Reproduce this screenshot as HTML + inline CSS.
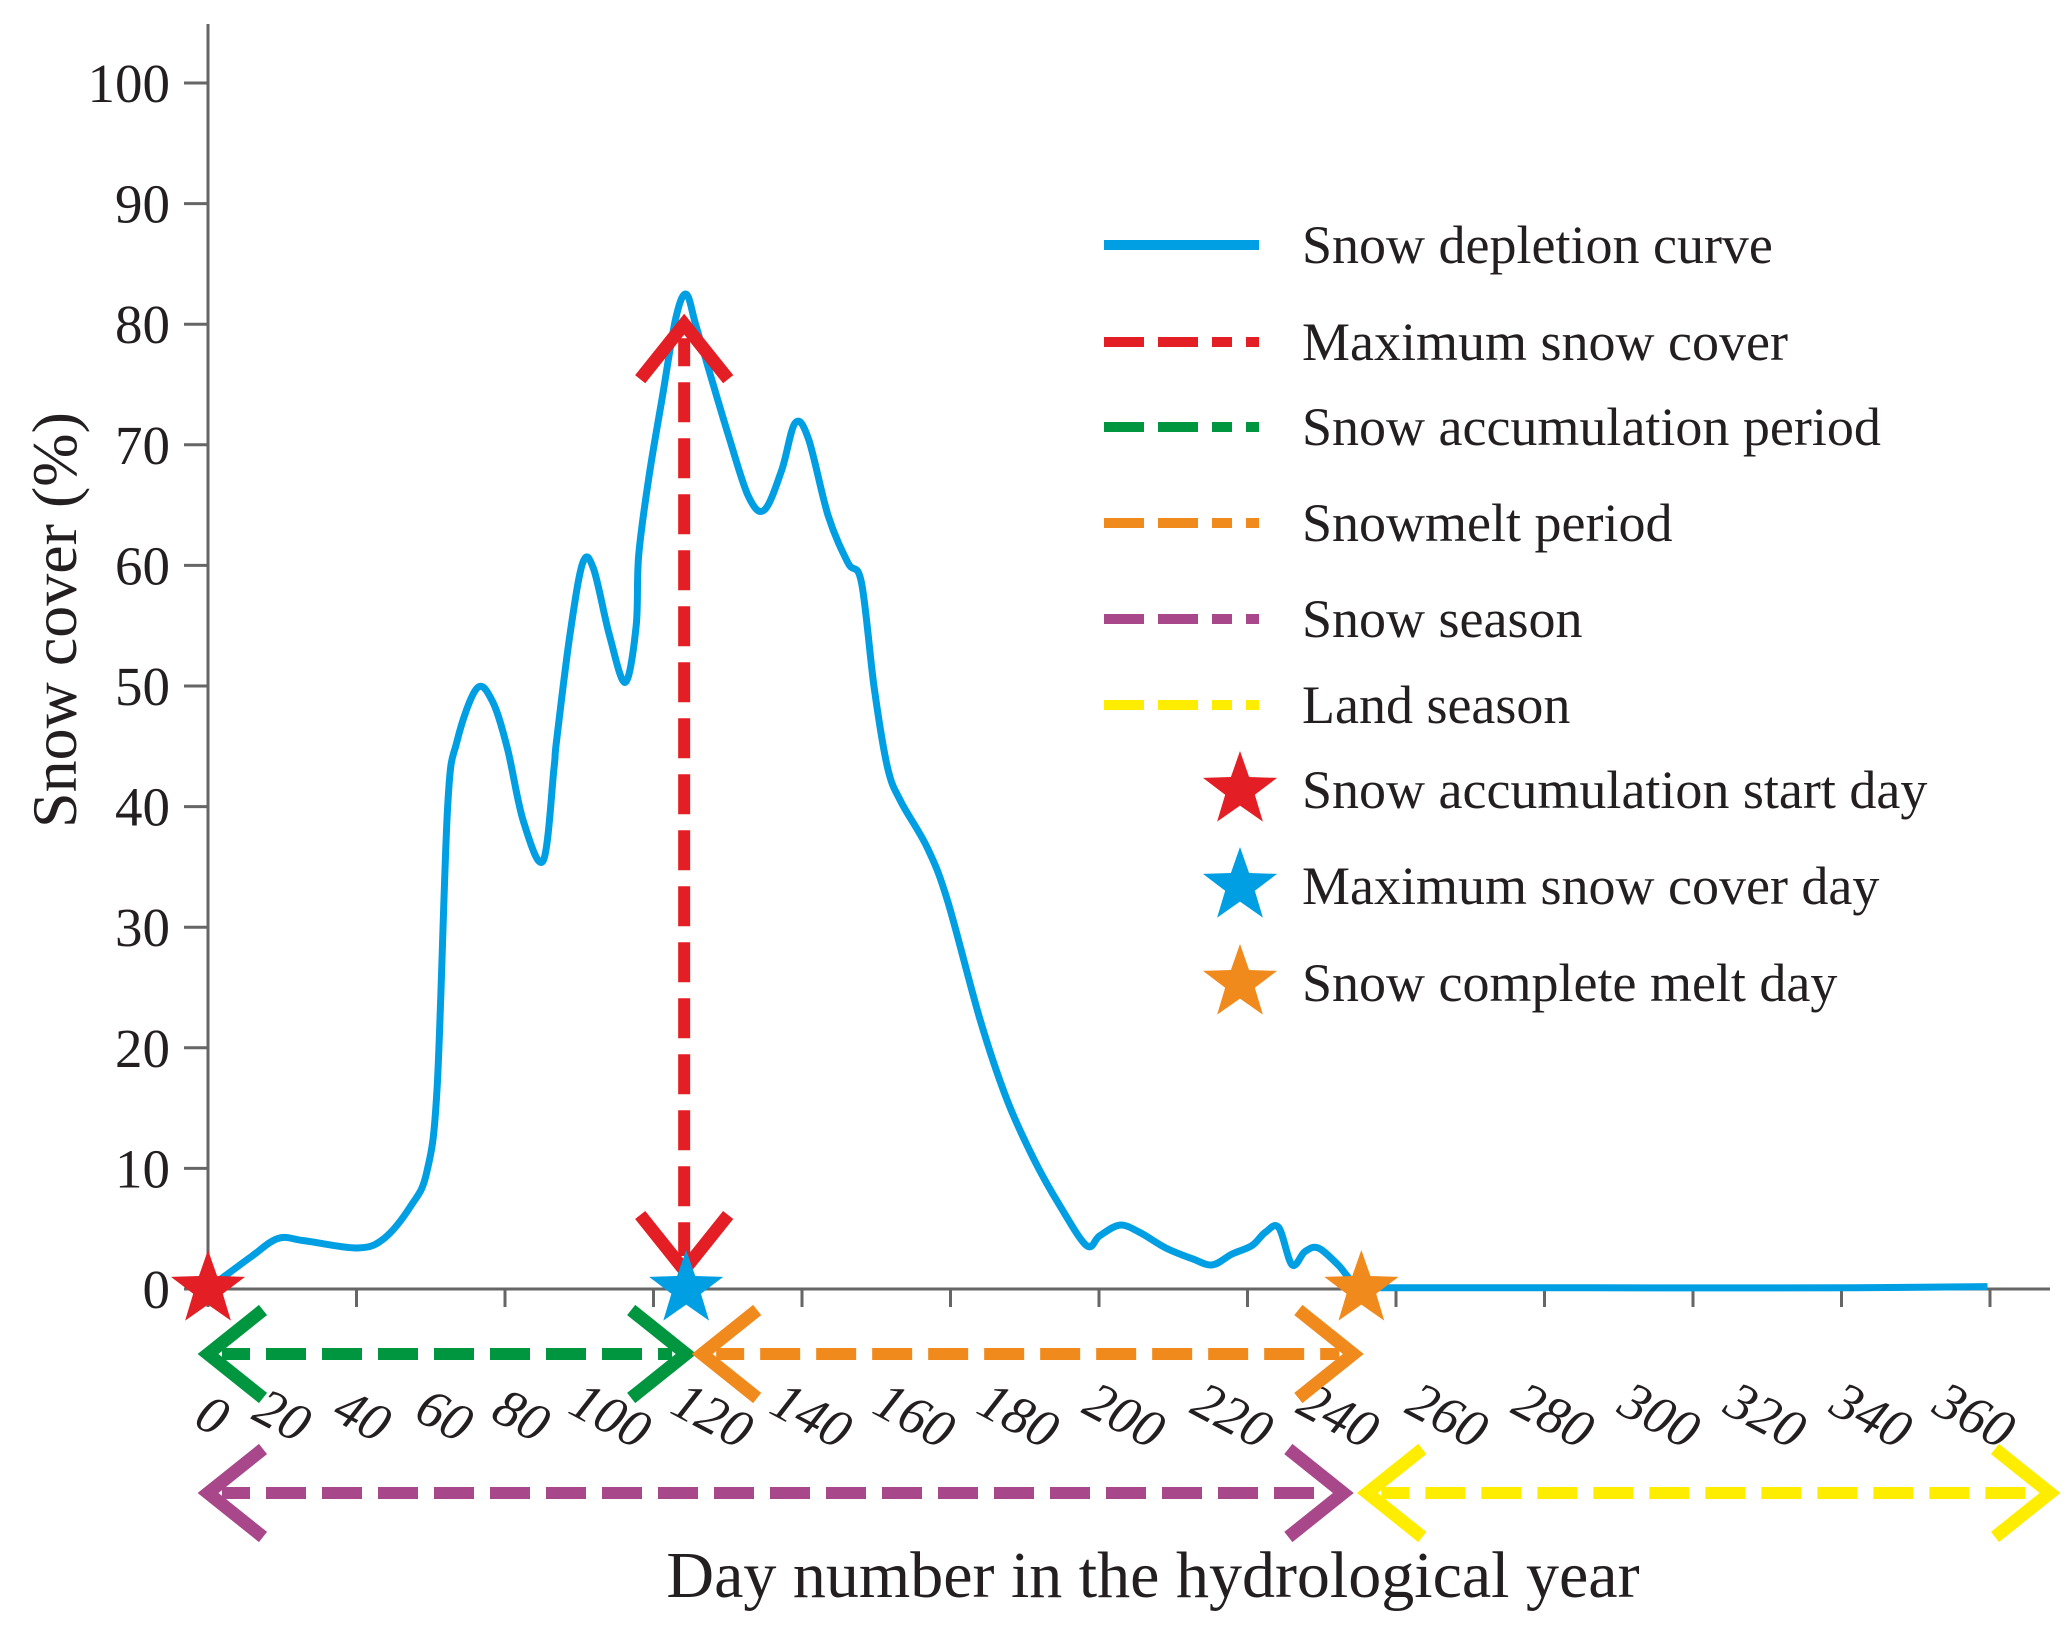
<!DOCTYPE html>
<html><head><meta charset="utf-8">
<style>
html,body{margin:0;padding:0;background:#fff;}
svg{display:block;font-family:"Liberation Serif",serif;}
</style></head>
<body>
<svg id="chart" width="2067" height="1628" viewBox="0 0 2067 1628" xmlns="http://www.w3.org/2000/svg">
<defs>
<path id="star" transform="scale(1.3)" d="M0,-30 L7,-10 L28.5,-9.3 L11.4,3.7 L17.6,24.3 L0,12 L-17.6,24.3 L-11.4,3.7 L-28.5,-9.3 L-7,-10 Z"/>
</defs>
</svg>
<script>
// ---- data ----
const days = [0,3.5,8.8,14.2,19.5,30.2,35.6,41,44.2,46.3,48.4,50.3,54.3,57.5,60.5,63.7,67.7,69.9,70.4,73.1,75.7,77.9,81.1,84.3,86.5,87,89.1,91.8,94.5,96.6,98.5,101.2,105.2,109.2,112.4,115.9,118.6,121.3,125.3,129.3,132,134.6,137.3,140,145.3,149.4,156,161.4,166.8,172.1,177.5,180.1,184.2,188.2,193.5,198.9,202.9,206.9,210.9,213.6,216.3,219,221.6,224.3,228.3,232.3,239,279,332.7,359.5];
const snowCover = [0,1.1,2.7,4.2,4,3.4,4.2,6.9,9.7,16.8,39.9,45.4,49.8,48.7,44.8,38.8,35.5,43.2,45.4,54.2,60.2,59.7,54.2,50.3,55,60.8,67.4,74,80.5,82.5,80,76.2,70.7,65.7,64.6,67.9,71.8,70.5,64.1,60.2,58.6,49.8,43.2,40.4,36.6,32.2,22.3,15.7,10.8,6.9,3.6,4.4,5.3,4.7,3.4,2.5,2,2.9,3.6,4.7,5.1,2,3.1,3.4,2,0.3,0.1,0.1,0.1,0.2];
const yTicks = [0,10,20,30,40,50,60,70,80,90,100];
const xTickDays = [0,30,60,90,120,150,180,210,240,270,300,330,360];
const xLabels = ["0","20","40","60","80","100","120","140","160","180","200","220","240","260","280","300","320","340","360"];
const xLabelPos = [212,282,362,444,521,610,712,811,914,1018,1124,1232,1338,1447,1553,1659,1765,1871,1974];
const maxDay = 96.6, maxVal = 80, startDay = 0, meltDay = 233;

// ---- scales ----
const X0=208, X1=1990, Y0=1289, Y100=83;
const xs = d => X0 + d*(X1-X0)/360;
const ys = v => Y0 - v*(Y0-Y100)/100;
const NS="http://www.w3.org/2000/svg";
const svg=document.getElementById('chart');
function mk(tag,attrs,parent){const e=document.createElementNS(NS,tag);for(const k in attrs)e.setAttribute(k,attrs[k]);(parent||svg).appendChild(e);return e;}

// axes
const axes=mk('g',{});


const ya=mk('line',{x1:X0,y1:24,x2:X0,y2:Y0,stroke:'#666','stroke-width':3},axes);


const xa=mk('line',{x1:X0,y1:Y0,x2:2050,y2:Y0,stroke:'#666','stroke-width':3},axes);


yTicks.forEach(v=>{
  const t=mk('line',{x1:X0-24,y1:ys(v),x2:X0,y2:ys(v),stroke:'#666','stroke-width':3},axes);
  
  
  const l=mk('text',{x:X0-38,y:ys(v)+19,'text-anchor':'end','font-size':55,fill:'#231f20'},axes);
  l.textContent=v;
  
  
});
xTickDays.forEach(d=>{
  const t=mk('line',{x1:xs(d),y1:Y0,x2:xs(d),y2:Y0+18,stroke:'#666','stroke-width':3},axes);
  
  
});
xLabels.forEach((s,i)=>{
  const cx=xLabelPos[i], cy=1416;
  const l=mk('text',{x:cx,y:cy+17,'text-anchor':'middle','font-size':54,'font-style':'italic',fill:'#231f20',transform:`rotate(28 ${cx} ${cy})`},axes);
  l.textContent=s;
  
  
});
const yt=mk('text',{x:0,y:0,'text-anchor':'middle','font-size':64,fill:'#231f20',transform:'translate(76 620) rotate(-90)'});
yt.textContent='Snow cover (%)';


const xt=mk('text',{x:1153,y:1597,'text-anchor':'middle','font-size':66,fill:'#231f20'});
xt.textContent='Day number in the hydrological year';



// curve (Catmull-Rom)
const pts=days.map((d,i)=>[xs(d),ys(snowCover[i])]);
let dstr=`M${pts[0][0]},${pts[0][1]}`;
for(let i=0;i<pts.length-1;i++){
  const p0=pts[i-1]||pts[i],p1=pts[i],p2=pts[i+1],p3=pts[i+2]||p2;
  const c1=[p1[0]+(p2[0]-p0[0])/6,p1[1]+(p2[1]-p0[1])/6];
  const c2=[p2[0]-(p3[0]-p1[0])/6,p2[1]-(p3[1]-p1[1])/6];
  dstr+=` C${c1[0]},${c1[1]} ${c2[0]},${c2[1]} ${p2[0]},${p2[1]}`;
}
const curve=mk('path',{d:dstr,fill:'none',stroke:'#009fe3','stroke-width':7,'stroke-linejoin':'round'});



// arrows
function dblArrow(x1,y1,x2,y2,color,name){
  const g=mk('g',{});
  
  
  const L=Math.hypot(x2-x1,y2-y1),ux=(x2-x1)/L,uy=(y2-y1)/L;
  mk('line',{x1:x1+ux*14,y1:y1+uy*14,x2:x2-ux*14,y2:y2-uy*14,stroke:color,'stroke-width':12,'stroke-dasharray':'40 16','stroke-dashoffset':-44},g);
  const depth=55, half=44;
  [[x1,y1,ux,uy],[x2,y2,-ux,-uy]].forEach(([px,py,dx,dy])=>{
    const bx=px+dx*depth, by=py+dy*depth;
    mk('polyline',{points:`${bx-dy*half},${by+dx*half} ${px},${py} ${bx+dy*half},${by-dx*half}`,fill:'none',stroke:color,'stroke-width':13},g);
  });
}
dblArrow(xs(maxDay)-2,ys(maxVal),xs(maxDay)-2,1270,'#e31e24','max-snow-arrow');
dblArrow(xs(startDay),1354,xs(maxDay),1354,'#009640','accumulation-period-arrow');
dblArrow(xs(maxDay)+16,1354,xs(meltDay)-8,1354,'#f08a1c','snowmelt-period-arrow');
dblArrow(xs(startDay),1493,xs(meltDay)-18,1493,'#a8488a','snow-season-arrow');
dblArrow(xs(meltDay)+6,1493,2050,1493,'#ffed00','land-season-arrow');

// stars
[[startDay,'#e31e24','start-day-star'],[maxDay,'#009fe3','max-day-star'],[meltDay,'#f08a1c','melt-day-star']].forEach(([d,c,n])=>{
  const s=mk('use',{href:'#star',x:xs(d),y:Y0,fill:c});
  
  
});

// legend
const legend=mk('g',{});


const legItems=[['line','#009fe3','Snow depletion curve',245],['dash','#e31e24','Maximum snow cover',342],['dash','#009640','Snow accumulation period',427],['dash','#f08a1c','Snowmelt period',523],['dash','#a8488a','Snow season',619],['dash','#ffed00','Land season',705],['star','#e31e24','Snow accumulation start day',790],['star','#009fe3','Maximum snow cover day',886],['star','#f08a1c','Snow complete melt day',983]];
legItems.forEach(([t,c,s,y])=>{
  const g=mk('g',{},legend);
  
  
  if(t==='line') mk('line',{x1:1104,y1:y,x2:1259,y2:y,stroke:c,'stroke-width':10},g);
  else if(t==='dash') mk('line',{x1:1104,y1:y,x2:1259,y2:y,stroke:c,'stroke-width':10,'stroke-dasharray':'40 14 40 14 20 14'},g);
  else mk('use',{href:'#star',x:1240,y:y,fill:c},g);
  const tx=mk('text',{x:1302,y:y+18,'font-size':54,fill:'#231f20'},g);
  tx.textContent=s;
});
</script>
</body></html>
